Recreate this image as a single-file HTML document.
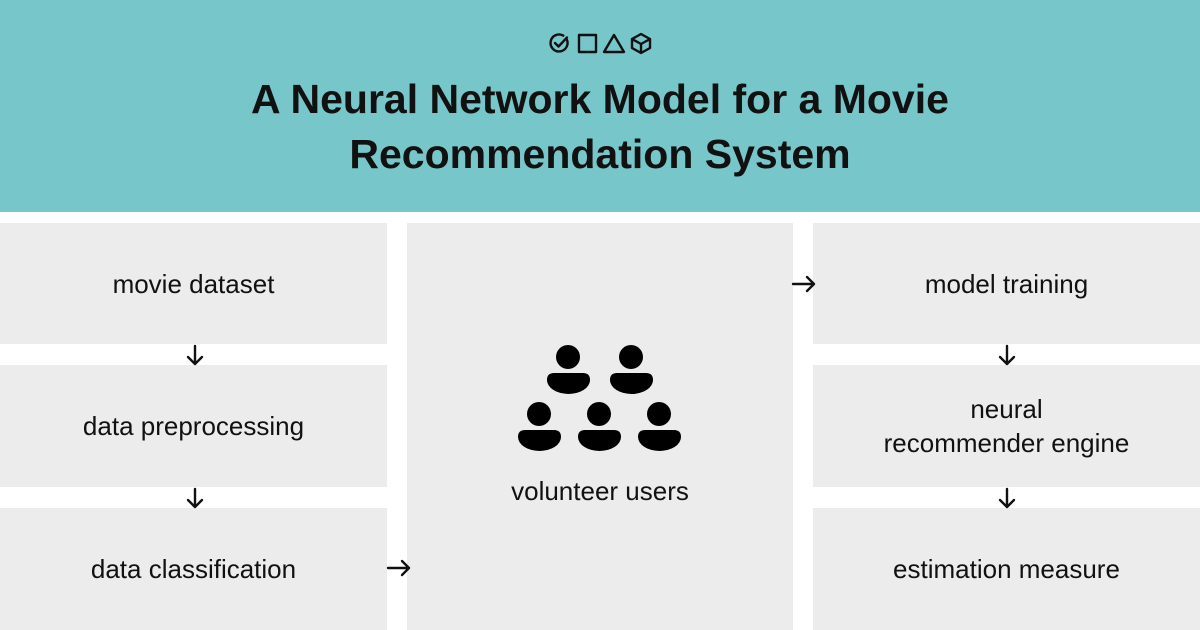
<!DOCTYPE html>
<html><head><meta charset="utf-8"><style>
*{margin:0;padding:0;box-sizing:border-box}
body{width:1200px;height:630px;background:#fff;position:relative;overflow:hidden;font-family:"Liberation Sans",sans-serif}
.hdr{position:absolute;left:0;top:0;width:1200px;height:212px;background:#77c6ca}
.t{position:absolute;left:0;width:1200px;text-align:center;font-weight:bold;font-size:41px;color:#111}
.b{position:absolute;background:#ececec;display:flex;align-items:center;justify-content:center;text-align:center;font-size:26px;color:#111;line-height:34px}
svg{position:absolute;left:0;top:0}
</style></head><body>
<div class="hdr"></div>
<div class="t" style="top:76px">A Neural Network Model for a Movie</div>
<div class="t" style="top:131px">Recommendation System</div>
<div class="b" style="left:0;top:223px;width:387px;height:121px">movie dataset</div>
<div class="b" style="left:0;top:365px;width:387px;height:122px">data preprocessing</div>
<div class="b" style="left:0;top:508px;width:387px;height:122px">data classification</div>
<div class="b" style="left:407px;top:223px;width:386px;height:407px;align-items:flex-start;padding-top:251px">volunteer users</div>
<div class="b" style="left:813px;top:223px;width:387px;height:121px">model training</div>
<div class="b" style="left:813px;top:365px;width:387px;height:122px">neural<br>recommender engine</div>
<div class="b" style="left:813px;top:508px;width:387px;height:122px">estimation measure</div>
<svg width="1200" height="630" viewBox="0 0 1200 630">
<g fill="none" stroke="#111" stroke-width="2.4" stroke-linecap="round" stroke-linejoin="round">
<path d="M566.4 38.7 A8.5 8.5 0 1 1 563.3 35.6"/><path d="M555 43 l3.5 3.5 l8.5 -9"/>
<rect x="579" y="35" width="17" height="17"/>
<path d="M614 35 L624 52 L604 52 Z"/>
<path d="M641 34 L650 39 L650 48 L641 53 L632 48 L632 39 Z M632 39 L641 44 L650 39 M641 44 L641 53"/>
<path d="M195 346 V364 M188 357 L195 364 L202 357"/>
<path d="M195 489 V507 M188 500 L195 507 L202 500"/>
<path d="M1007 346 V364 M1000 357 L1007 364 L1014 357"/>
<path d="M1007 489 V507 M1000 500 L1007 507 L1014 500"/>
<path d="M388 568 H409 M402 561 L409 568 L402 575"/>
<path d="M793 284 H814 M807 277 L814 284 L807 291"/>
</g>
<g fill="#000">
<circle cx="568" cy="357" r="12"/><path d="M547 380 Q547 373 554 373 H583 Q590 373 590 380 A21.5 14 0 0 1 547 380Z"/>
<circle cx="631" cy="357" r="12"/><path d="M610 380 Q610 373 617 373 H646 Q653 373 653 380 A21.5 14 0 0 1 610 380Z"/>
<circle cx="539" cy="414" r="12"/><path d="M518 437 Q518 430 525 430 H554 Q561 430 561 437 A21.5 14 0 0 1 518 437Z"/>
<circle cx="599" cy="414" r="12"/><path d="M578 437 Q578 430 585 430 H614 Q621 430 621 437 A21.5 14 0 0 1 578 437Z"/>
<circle cx="659" cy="414" r="12"/><path d="M638 437 Q638 430 645 430 H674 Q681 430 681 437 A21.5 14 0 0 1 638 437Z"/>
</g>
</svg>
</body></html>
